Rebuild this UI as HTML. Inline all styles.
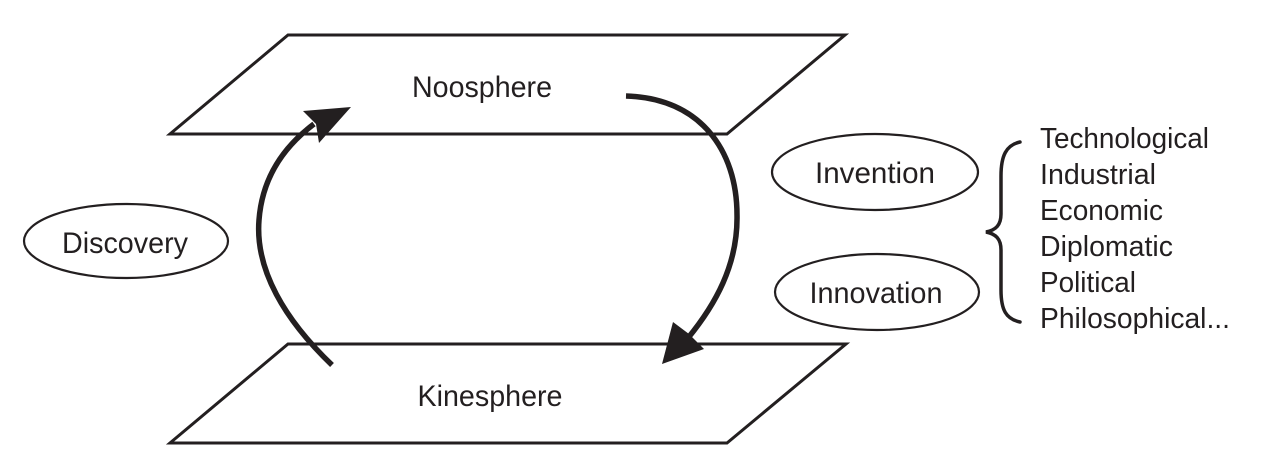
<!DOCTYPE html>
<html>
<head>
<meta charset="utf-8">
<style>
  html, body { margin: 0; padding: 0; background: #ffffff; }
  svg { display: block; }
  text { font-family: "Liberation Sans", "DejaVu Sans", sans-serif; fill: #231f20; }
</style>
</head>
<body>
<svg width="1273" height="475" viewBox="0 0 1273 475" xmlns="http://www.w3.org/2000/svg">
  <!-- Parallelograms -->
  <polygon points="288,35 845,35 727,134 170,134" fill="none" stroke="#231f20" stroke-width="3"/>
  <polygon points="288,344 846,344 727,443 170,443" fill="none" stroke="#231f20" stroke-width="3"/>

  <text x="482" y="97" font-size="30" text-anchor="middle" textLength="140" lengthAdjust="spacingAndGlyphs">Noosphere</text>
  <text x="490" y="406" font-size="30" text-anchor="middle" textLength="145" lengthAdjust="spacingAndGlyphs">Kinesphere</text>

  <!-- Left arrow (up) -->
  <path d="M332,365 C285,320 255,270 259,220 C262,180 282,148 314,124" fill="none" stroke="#231f20" stroke-width="5.5"/>
  <polygon points="351,107 303,111 316,124 319,143" fill="#231f20"/>

  <!-- Right arrow (down) -->
  <path d="M626,96 C700,98 737,150 737,215 C738,265 715,305 688,338" fill="none" stroke="#231f20" stroke-width="5.5"/>
  <polygon points="662,364 673,322 689,334 704,349" fill="#231f20"/>

  <!-- Ellipses -->
  <ellipse cx="126" cy="241" rx="102" ry="37" fill="none" stroke="#231f20" stroke-width="2.2"/>
  <text x="125" y="253" font-size="30" text-anchor="middle" textLength="126" lengthAdjust="spacingAndGlyphs">Discovery</text>

  <ellipse cx="875" cy="172" rx="103" ry="38" fill="none" stroke="#231f20" stroke-width="2.2"/>
  <text x="875" y="183" font-size="30" text-anchor="middle" textLength="120" lengthAdjust="spacingAndGlyphs">Invention</text>

  <ellipse cx="877" cy="292" rx="102" ry="38" fill="none" stroke="#231f20" stroke-width="2.2"/>
  <text x="876" y="303" font-size="30" text-anchor="middle" textLength="133" lengthAdjust="spacingAndGlyphs">Innovation</text>

  <!-- Brace -->
  <path d="M1020,142 C1006,145 1001,156 1001,176 L1001,214 C1001,225 996,230 986,232 C996,234 1001,239 1001,250 L1001,290 C1001,310 1006,319 1020,322" fill="none" stroke="#231f20" stroke-width="3.5" stroke-linecap="round"/>

  <!-- List -->
  <text x="1040" y="148" font-size="29" textLength="169" lengthAdjust="spacingAndGlyphs">Technological</text>
  <text x="1040" y="184" font-size="29" textLength="116" lengthAdjust="spacingAndGlyphs">Industrial</text>
  <text x="1040" y="220" font-size="29" textLength="123" lengthAdjust="spacingAndGlyphs">Economic</text>
  <text x="1040" y="256" font-size="29" textLength="133" lengthAdjust="spacingAndGlyphs">Diplomatic</text>
  <text x="1040" y="292" font-size="29" textLength="96" lengthAdjust="spacingAndGlyphs">Political</text>
  <text x="1040" y="328" font-size="29" textLength="190" lengthAdjust="spacingAndGlyphs">Philosophical...</text>
</svg>
</body>
</html>
